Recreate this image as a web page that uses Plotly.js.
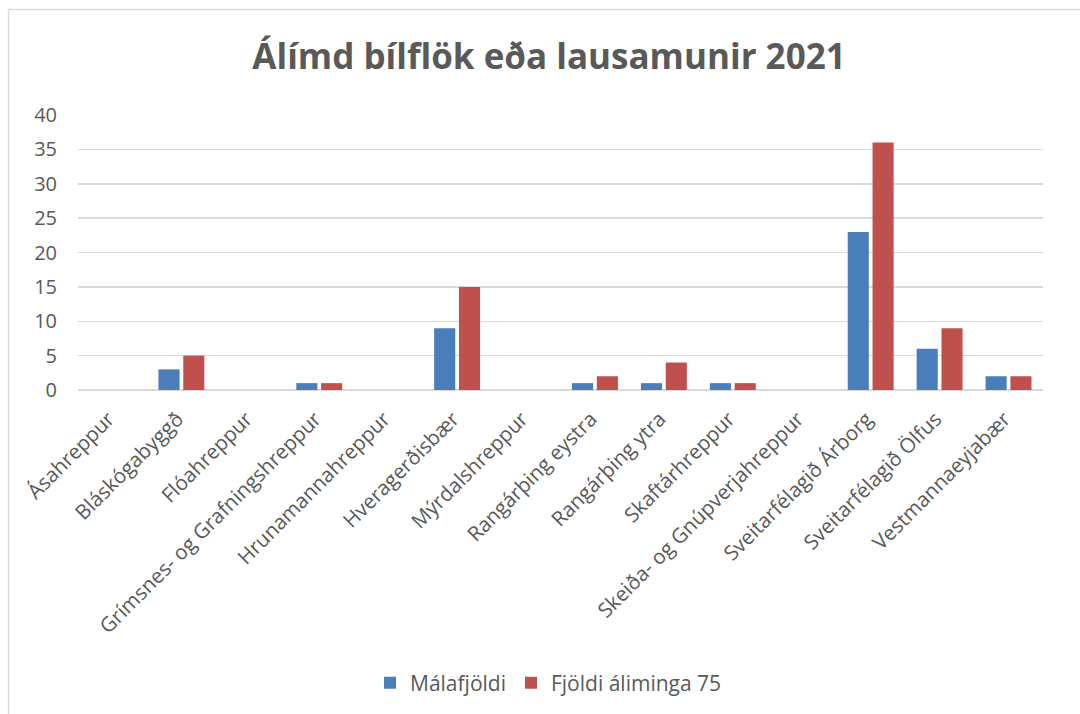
<!DOCTYPE html>
<html>
<head>
<meta charset="utf-8">
<script src="https://cdn.plot.ly/plotly-3.0.1.min.js"></script>
<style>html,body{margin:0;padding:0;background:#fff;}#chart{width:1080px;height:714px;}</style>
</head>
<body>
<div id="chart"></div>
<script>
const categories = [
  "Ásahreppur", "Bláskógabyggð", "Flóahreppur", "Grímsnes- og Grafningshreppur",
  "Hrunamannahreppur", "Hveragerðisbær", "Mýrdalshreppur", "Rangárþing eystra",
  "Rangárþing ytra", "Skaftárhreppur", "Skeiða- og Gnúpverjahreppur",
  "Sveitarfélagið Árborg", "Sveitarfélagið Ölfus", "Vestmannaeyjabær"
];
const malafjoldi = [0, 3, 0, 1, 0, 9, 0, 1, 1, 1, 0, 23, 6, 2];
const fjoldiAliminga = [0, 5, 0, 1, 0, 15, 0, 2, 4, 1, 0, 36, 9, 2];
const seriesNames = ["Málafjöldi", "Fjöldi áliminga 75"];
const yTicks = [0, 5, 10, 15, 20, 25, 30, 35, 40];

const txt = "#595959";
const font = "'Open Sans', 'DejaVu Sans', sans-serif";

const traces = [
  {type: "bar", x: categories, y: malafjoldi, name: seriesNames[0],
   marker: {color: "#4a7ebb", line: {width: 0}}},
  {type: "bar", x: categories, y: fjoldiAliminga, name: seriesNames[1],
   marker: {color: "#c0504d", line: {width: 0}}}
];

const L = 78, R = 1043, T = 115, B = 390;
const pw = R - L, ph = B - T;

const layout = {
  width: 1080, height: 714,
  margin: {l: L, r: 1080 - R, t: T, b: 714 - B, pad: 0, autoexpand: false},
  paper_bgcolor: "#fff", plot_bgcolor: "#fff",
  font: {family: font, color: txt, size: 20},
  title: {text: "<b>Álímd bílflök eða lausamunir 2021</b>",
    font: {family: font, size: 35, color: txt},
    x: 549 / 1080, xanchor: "center", y: 1 - 57/714, yref: "container", yanchor: "middle"},
  barmode: "group", bargap: 0.28, bargroupgap: 0.15,
  xaxis: {type: "category", tickangle: -45, showgrid: false, zeroline: false, automargin: false,
    showline: false, ticks: "", ticklabelstandoff: 12, ticklabelshift: -4,
    tickfont: {size: 20.5, color: txt, family: font}},
  yaxis: {range: [0, 40], tickvals: yTicks, ticktext: yTicks.map(String), automargin: false,
    showgrid: true, gridcolor: "#d9d9d9", gridwidth: 1.5, zeroline: true,
    zerolinecolor: "#d9d9d9", zerolinewidth: 1.5, showline: false, ticks: "",
    ticklabelstandoff: 20, tickfont: {size: 20, color: txt, family: font}},
  showlegend: true,
  legend: {orientation: "h", x: 0.5 - 12 / pw, xanchor: "center", y: (B - 683) / ph, yanchor: "middle",
    font: {size: 21, color: txt, family: font}, itemwidth: 30, traceorder: "normal"},
  shapes: [
    {type: "line", xref: "paper", yref: "paper",
     x0: (8.5 - L) / pw, x1: (1085 - L) / pw, y0: (B - 9.5) / ph, y1: (B - 9.5) / ph,
     line: {color: "#d9d9d9", width: 1.5}},
    {type: "line", xref: "paper", yref: "paper",
     x0: (8.5 - L) / pw, x1: (8.5 - L) / pw, y0: (B - 9.5) / ph, y1: (B - 720) / ph,
     line: {color: "#d9d9d9", width: 1.5}}
  ]
};

Plotly.newPlot("chart", traces, layout, {displayModeBar: false, staticPlot: true});
</script>
</body>
</html>
